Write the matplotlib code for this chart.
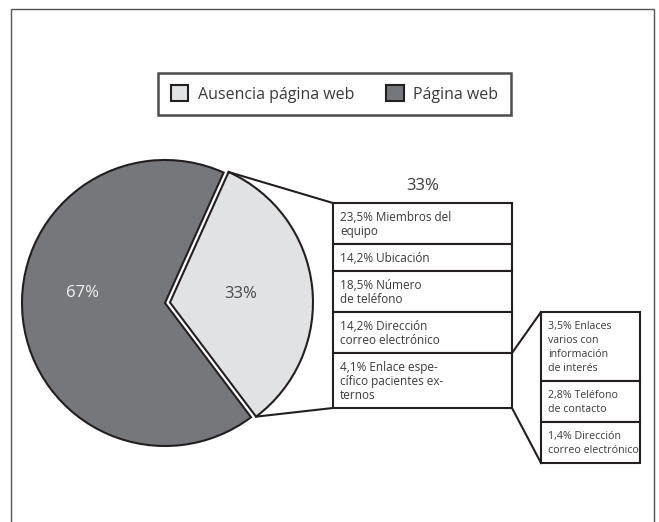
import numpy as np
import matplotlib.pyplot as plt
from matplotlib.patches import Rectangle

plt.rcParams['font.family'] = ['Open Sans', 'DejaVu Sans']

W, H = 659, 522

# data
labels = ['Ausencia página web', 'Página web']
shares = [33, 67]
colors = ['#e1e2e4', '#76777b']

detail = ['23,5% Miembros del\nequipo', '14,2% Ubicación',
          '18,5% Número\nde teléfono', '14,2% Dirección\ncorreo electrónico',
          '4,1% Enlace espe-\ncífico pacientes ex-\nternos']
subdetail = ['3,5% Enlaces\nvarios con\ninformación\nde interés',
             '2,8% Teléfono\nde contacto',
             '1,4% Dirección\ncorreo electrónico']

edge = '#231f20'
txt = '#3a3a3a'
step = 14  # px between text lines in the boxes


def flip(y):
    # image rows run downwards, axes run upwards
    return H - y


fig = plt.figure(figsize=(W / 100, H / 100), dpi=100)
ax = fig.add_axes([0, 0, 1, 1])

wedges, _, autotexts = ax.pie(shares, colors=colors, startangle=-53,
                              explode=[5, 0], center=(165, flip(303)), radius=143,
                              autopct='%d%%', pctdistance=0.5,
                              wedgeprops=dict(edgecolor=edge, linewidth=1.5),
                              textprops=dict(fontsize=12))
autotexts[0].set_color('#4a4a4a')
autotexts[1].set_color('#f2f2f2')
# move the big slice label a bit up, like the original
w1 = wedges[1]
ang = np.deg2rad(173)
autotexts[1].set_position((w1.center[0] + 0.58 * w1.r * np.cos(ang),
                           w1.center[1] + 0.58 * w1.r * np.sin(ang)))

ax.set_xlim(0, W)
ax.set_ylim(0, H)
ax.set_aspect('auto')
ax.axis('off')

# outer frame (open at the bottom)
ax.add_patch(Rectangle((11, flip(540)), 643, 531, fill=False,
                       edgecolor='#555555', linewidth=1))


def draw_column(items, x0, x1, top, size):
    y = top
    for s in items:
        lines = s.split('\n')
        h = step * len(lines) + 13
        ax.add_patch(Rectangle((x0, flip(y + h)), x1 - x0, h, facecolor='white',
                               edgecolor=edge, linewidth=1.5, zorder=3))
        for i, line in enumerate(lines):
            ax.text(x0 + 7, flip(y + 13 + i * step), line, ha='left', va='center_baseline',
                    fontsize=size, color=txt, zorder=4)
        y += h
    return y


# first breakdown column
c1x0, c1x1, c1top = 333, 512, 203
c1bot = draw_column(detail, c1x0, c1x1, c1top, 8.5)
last_top = c1bot - (step * len(detail[-1].split('\n')) + 13)
ax.text((c1x0 + c1x1) / 2, flip(186), f'{shares[0]}%', ha='center', va='center',
        fontsize=12, color=txt)

# connectors from the light slice to the column
w0 = wedges[0]
cxw, cyw = w0.center
p_top = (cxw + w0.r * np.cos(np.deg2rad(w0.theta2)), cyw + w0.r * np.sin(np.deg2rad(w0.theta2)))
p_bot = (cxw + w0.r * np.cos(np.deg2rad(w0.theta1)), cyw + w0.r * np.sin(np.deg2rad(w0.theta1)))
ax.plot([p_top[0], c1x0], [p_top[1], flip(c1top)], color=edge, lw=1.5, zorder=2)
ax.plot([p_bot[0], c1x0], [p_bot[1], flip(c1bot)], color=edge, lw=1.5, zorder=2)

# second breakdown column
c2x0, c2x1, c2top = 541, 640, 312
c2bot = draw_column(subdetail, c2x0, c2x1, c2top, 7.7)
ax.plot([c1x1, c2x0], [flip(last_top), flip(c2top)], color=edge, lw=1.5, zorder=2)
ax.plot([c1x1, c2x0], [flip(c1bot), flip(c2bot)], color=edge, lw=1.5, zorder=2)

leg = ax.legend(wedges, labels, ncol=2, loc='center',
                bbox_to_anchor=(334.5, flip(94)), bbox_transform=ax.transData,
                frameon=True, fancybox=False, edgecolor=edge, fontsize=11.5,
                labelcolor=txt, handlelength=1.1, handleheight=1.1,
                handletextpad=0.6, columnspacing=2.0, borderpad=0.8)
leg.get_frame().set_linewidth(1.8)

fig.savefig('out.png', dpi=100)
